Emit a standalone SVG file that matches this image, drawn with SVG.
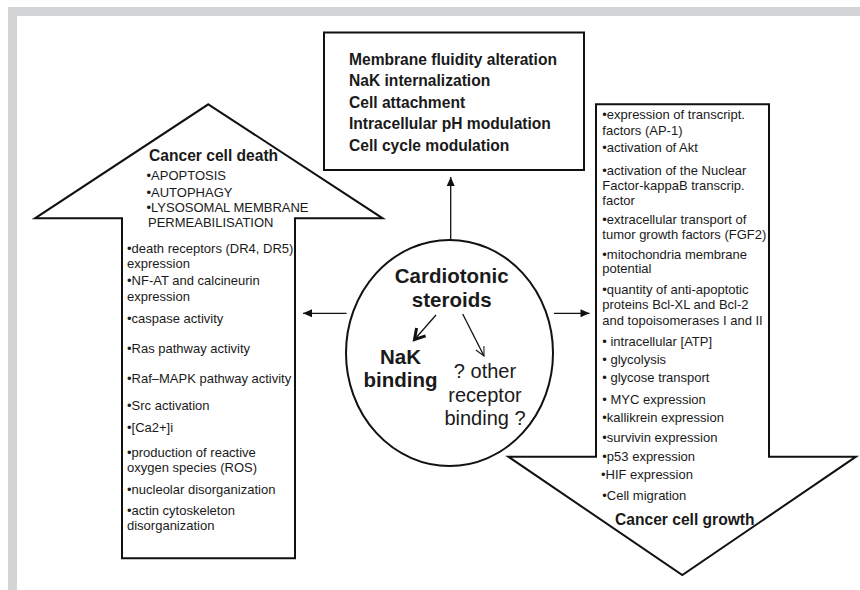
<svg xmlns="http://www.w3.org/2000/svg" width="860" height="590" viewBox="0 0 860 590">
<style>
text{font-family:"Liberation Sans",Arial,sans-serif;fill:#1a1a1a}
.b16{font-size:15.6px;font-weight:bold}
.b20{font-size:20.5px;font-weight:bold}
.r20{font-size:20px}
.r13{font-size:13px}
.shape{fill:#fff;stroke:#111;stroke-width:2}
.conn{fill:none;stroke:#111;stroke-width:1.3}
</style>
<defs>
<marker id="ah" markerUnits="userSpaceOnUse" markerWidth="12" markerHeight="10" refX="9" refY="4" orient="auto" overflow="visible">
<path d="M0,0 L9,4 L0,8 z" fill="#111"/>
</marker>
<marker id="vthick" markerUnits="userSpaceOnUse" markerWidth="14" markerHeight="14" refX="0" refY="0" orient="auto" overflow="visible">
<path d="M-10,-6 L0,0 L-10,6" fill="none" stroke="#111" stroke-width="3"/>
</marker>
<marker id="vthin" markerUnits="userSpaceOnUse" markerWidth="12" markerHeight="12" refX="0" refY="0" orient="auto" overflow="visible">
<path d="M-9,-4.5 L0,0 L-9,4.5" fill="none" stroke="#111" stroke-width="1"/>
</marker>
</defs>
<rect width="860" height="590" fill="#fff"/>
<g id="frame" fill="#d3d4d6">
<rect x="8" y="7" width="852" height="9"/>
<rect x="8" y="7" width="9" height="583"/>
</g>
<g id="node-top-box">
<rect class="shape" x="324" y="32.5" width="260" height="137.5" stroke-width="1.6"/>
<text class="b16" x="349" y="64.5">Membrane fluidity alteration</text>
<text class="b16" x="349" y="86">NaK internalization</text>
<text class="b16" x="349" y="107.5">Cell attachment</text>
<text class="b16" x="349" y="129">Intracellular pH modulation</text>
<text class="b16" x="349" y="150.5">Cell cycle modulation</text>
</g>
<g id="node-death-arrow">
<polygon class="shape" points="208.3,104.3 382.7,218.3 295,218.3 295,558.3 122,558.3 122,218.3 35,218.3"/>
<text class="b16" x="149" y="160.5">Cancer cell death</text>
<text class="r13" x="146.5" y="180">•APOPTOSIS</text>
<text class="r13" x="146.5" y="196.5">•AUTOPHAGY</text>
<text class="r13" x="146.5" y="212.3">•LYSOSOMAL MEMBRANE</text>
<text class="r13" x="148" y="227.3">PERMEABILISATION</text>
<text class="r13" x="127" y="252.7">•death receptors (DR4, DR5)</text>
<text class="r13" x="127" y="267.5">expression</text>
<text class="r13" x="127" y="285">•NF-AT and calcineurin</text>
<text class="r13" x="127" y="300.5">expression</text>
<text class="r13" x="127" y="323.3">•caspase activity</text>
<text class="r13" x="127" y="352.7">•Ras pathway activity</text>
<text class="r13" x="127" y="382.7">•Raf–MAPK pathway activity</text>
<text class="r13" x="127" y="410">•Src activation</text>
<text class="r13" x="127" y="431.7">•[Ca2+]i</text>
<text class="r13" x="127" y="456.7">•production of reactive</text>
<text class="r13" x="127" y="471.7">oxygen species (ROS)</text>
<text class="r13" x="127" y="494.3">•nucleolar disorganization</text>
<text class="r13" x="127" y="515">•actin cytoskeleton</text>
<text class="r13" x="127" y="530.2">disorganization</text>
</g>
<g id="node-growth-arrow">
<polygon class="shape" points="596,104.3 769,104.3 769,456.7 856,456.7 682.3,575 508.3,456.7 596,456.7"/>
<text class="r13" x="602.3" y="119.3">•expression of transcript.</text>
<text class="r13" x="602.3" y="135">factors (AP-1)</text>
<text class="r13" x="602.3" y="151.7">•activation of Akt</text>
<text class="r13" x="602.3" y="175">•activation of the Nuclear</text>
<text class="r13" x="602.3" y="190">Factor-kappaB transcrip.</text>
<text class="r13" x="602.3" y="205">factor</text>
<text class="r13" x="602.3" y="224">•extracellular transport of</text>
<text class="r13" x="602.3" y="239.3">tumor growth factors (FGF2)</text>
<text class="r13" x="602.3" y="259.3">•mitochondria membrane</text>
<text class="r13" x="602.3" y="272.7">potential</text>
<text class="r13" x="602.3" y="294.3">•quantity of anti-apoptotic</text>
<text class="r13" x="602.3" y="309">proteins Bcl-XL and Bcl-2</text>
<text class="r13" x="602.3" y="325">and topoisomerases I and II</text>
<text class="r13" x="602.3" y="345.7">• intracellular [ATP]</text>
<text class="r13" x="602.3" y="364">• glycolysis</text>
<text class="r13" x="602.3" y="382.3">• glycose transport</text>
<text class="r13" x="602.3" y="404.3">• MYC expression</text>
<text class="r13" x="602.3" y="422">•kallikrein expression</text>
<text class="r13" x="602.3" y="441.7">•survivin expression</text>
<text class="r13" x="602.3" y="461">•p53 expression</text>
<text class="r13" x="601" y="479">•HIF expression</text>
<text class="r13" x="602.3" y="500">•Cell migration</text>
<text class="b16" x="615" y="525">Cancer cell growth</text>
</g>
<g id="node-center">
<ellipse class="shape" cx="449.5" cy="353" rx="103.5" ry="113" stroke-width="1.6"/>
<text class="b20" x="451.7" y="283.3" text-anchor="middle">Cardiotonic</text>
<text class="b20" x="451.7" y="307.3" text-anchor="middle">steroids</text>
<text class="b20" x="400.5" y="364" text-anchor="middle">NaK</text>
<text class="b20" x="400.5" y="386.7" text-anchor="middle">binding</text>
<text class="r20" x="485" y="378" text-anchor="middle">? other</text>
<text class="r20" x="485" y="401.7" text-anchor="middle">receptor</text>
<text class="r20" x="485" y="425" text-anchor="middle">binding ?</text>
</g>
<g id="connectors">
<line class="conn" x1="450.7" y1="240" x2="450.7" y2="177" stroke-width="1.6" marker-end="url(#ah)"/>
<line class="conn" x1="346.5" y1="313.3" x2="303" y2="313.3" marker-end="url(#ah)"/>
<line class="conn" x1="554" y1="313.3" x2="589.5" y2="313.3" marker-end="url(#ah)"/>
<line class="conn" x1="436" y1="315" x2="414.5" y2="339.5" stroke-width="3" marker-end="url(#vthick)"/>
<line class="conn" x1="462.7" y1="314" x2="484" y2="356" stroke-width="1" marker-end="url(#vthin)"/>
</g>
</svg>
